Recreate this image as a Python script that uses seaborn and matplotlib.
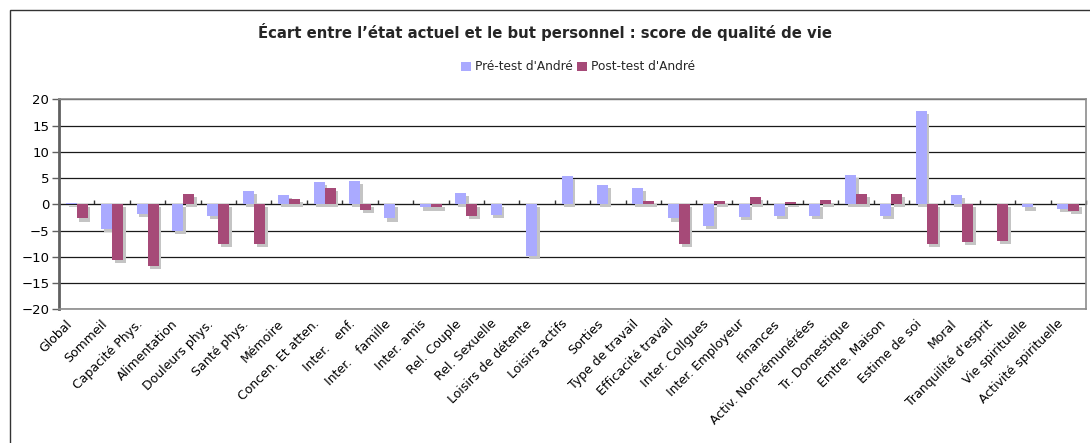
import numpy as np
import pandas as pd
import matplotlib
matplotlib.use("Agg")
import matplotlib.pyplot as plt
import matplotlib.patheffects as pe
import matplotlib.transforms as mtransforms
from matplotlib.patches import Rectangle, Patch
import seaborn as sns

categories = ["Global", "Sommeil", "Capacité Phys.", "Alimentation", "Douleurs phys.",
              "Santé phys.", "Mémoire", "Concen. Et atten.", "Inter.   enf.", "Inter.   famille",
              "Inter. amis", "Rel. Couple", "Rel. Sexuelle", "Loisirs de détente", "Loisirs actifs",
              "Sorties", "Type de travail", "Efficacité travail", "Inter. Collgues", "Inter. Employeur",
              "Finances", "Activ. Non-rémunérées", "Tr. Domestique", "Emtre. Maison", "Estime de soi",
              "Moral", "Tranquilité d'esprit", "Vie spirituelle", "Activité spirituelle"]
pre_test = [0.2, -4.7, -1.8, -5.0, -2.3, 2.5, 1.8, 4.2, 4.4, -2.7,
            -0.6, 2.2, -2.0, -9.8, 5.4, 3.7, 3.1, -2.7, -4.1, -2.5,
            -2.2, -2.3, 5.6, -2.2, 17.8, 1.8, 0.0, -0.6, -0.8]
post_test = [-2.7, -10.6, -11.7, 2.0, -7.6, -7.6, 1.0, 3.1, -1.0, 0.0,
             -0.6, -2.2, 0.0, 0.0, 0.0, 0.0, 0.6, -7.6, 0.6, 1.4,
             0.45, 0.8, 2.0, 2.0, -7.6, -7.2, -6.9, 0.0, -1.2]
series_names = ["Pré-test d'André", "Post-test d'André"]
colors = ["#AAAAFF", "#A64A78"]
title = "Écart entre l’état actuel et le but personnel : score de qualité de vie"

df = pd.DataFrame({
    "cat": categories * 2,
    "val": pre_test + post_test,
    "serie": [series_names[0]] * len(categories) + [series_names[1]] * len(categories),
})

sns.set_style("white")
plt.rcParams["font.family"] = ["DejaVu Sans"]

W, H = 1090, 443
fig = plt.figure(figsize=(W / 100, H / 100), dpi=100)
ax = fig.add_axes([59 / W, 1 - 309.3 / H, (1086 - 59) / W, (309.3 - 99.3) / H])

sns.barplot(data=df, x="cat", y="val", hue="serie", palette=colors, width=0.62,
            saturation=1, ax=ax, legend=False, order=categories, hue_order=series_names,
            edgecolor="none", linewidth=0)

for p in ax.patches:
    p.set_path_effects([pe.SimplePatchShadow(offset=(2.0, -2.2), shadow_rgbFace="#C4C4C4", alpha=1),
                        pe.Normal()])

ax.set_xlim(-0.5, len(categories) - 0.5)
ax.set_ylim(-20, 20)
ax.set_yticks(np.arange(-20, 21, 5))
ax.yaxis.grid(True, color="#1a1a1a", linewidth=0.9)
ax.set_axisbelow(True)
ax.set_xlabel("")
ax.set_ylabel("")

for s in ["top", "right", "bottom"]:
    ax.spines[s].set_color("#8c8c8c")
    ax.spines[s].set_linewidth(1.2)
ax.spines["left"].set_color("#606060")
ax.spines["left"].set_linewidth(2)

ax.tick_params(axis="y", which="both", left=True, length=5, width=1, color="#606060",
               labelsize=9.5, pad=2, labelcolor="#000000")
ax.tick_params(axis="x", bottom=False, length=0, pad=9, labelsize=9, labelcolor="#000000")
ax.set_xticks(range(len(categories)))
ax.set_xticklabels(categories, rotation=45, ha="right", va="center", rotation_mode="anchor")
shift = mtransforms.ScaledTranslation(-7 / 100, 0, fig.dpi_scale_trans)
for lbl in ax.get_xticklabels():
    lbl.set_transform(lbl.get_transform() + shift)

# category axis crossing at zero with boundary ticks
sec = ax.secondary_xaxis(0.5)
sec.set_xticks(np.arange(-0.5, len(categories), 1.0))
sec.set_xticklabels([])
sec.tick_params(direction="out", length=3, width=1, color="#333333")
sec.spines["bottom"].set_color("#000000")
sec.spines["bottom"].set_linewidth(1.4)

fig.text(0.5, 1 - 32 / H, title, ha="center", va="center", fontsize=10.7, fontweight="bold")

handles = [Patch(facecolor=c, edgecolor="none") for c in colors]
fig.legend(handles, series_names, loc="center", bbox_to_anchor=(578 / W, 1 - 67 / H),
           ncol=2, frameon=False, fontsize=8.7, handlelength=0.8, handleheight=0.8,
           handletextpad=0.3, columnspacing=0.4, borderpad=0)

fig.patches.append(Rectangle((9.5 / W, -0.05), 1.2, 1 - 10 / H + 0.05, transform=fig.transFigure,
                             fill=False, edgecolor="#333333", linewidth=1, zorder=-1))

fig.savefig("out.png", dpi=100)
